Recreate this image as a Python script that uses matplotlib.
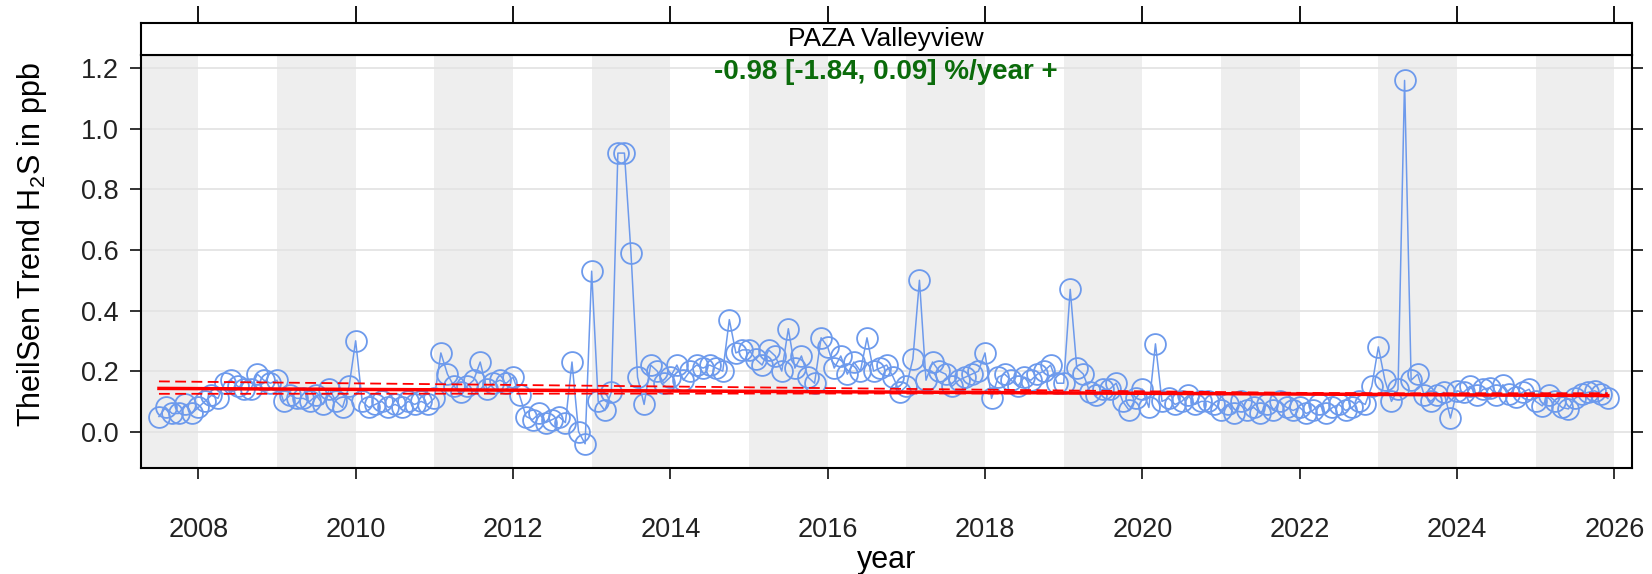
import matplotlib
matplotlib.use("Agg")
import matplotlib.pyplot as plt
import numpy as np

plt.rcParams['font.family'] = ['Liberation Sans', 'DejaVu Sans']
plt.rcParams['mathtext.fontset'] = 'custom'
plt.rcParams['mathtext.rm'] = 'Liberation Sans'
plt.rcParams['mathtext.it'] = 'Liberation Sans:italic'

# monthly H2S means, Jul 2007 - Dec 2025
start_year, start_month = 2007, 7
h2s = [
    0.05, 0.08, 0.06, 0.06, 0.09, 0.06,                                    # 2007
    0.08, 0.10, 0.12, 0.11, 0.16, 0.17, 0.15, 0.14, 0.14, 0.19, 0.17, 0.16,  # 2008
    0.17, 0.10, 0.12, 0.11, 0.11, 0.10, 0.12, 0.09, 0.14, 0.10, 0.08, 0.15,  # 2009
    0.30, 0.10, 0.08, 0.09, 0.10, 0.08, 0.09, 0.08, 0.10, 0.09, 0.10, 0.09,  # 2010
    0.11, 0.26, 0.19, 0.15, 0.13, 0.15, 0.17, 0.23, 0.14, 0.16, 0.17, 0.16,  # 2011
    0.18, 0.12, 0.05, 0.04, 0.06, 0.03, 0.04, 0.05, 0.03, 0.23, 0.00, -0.04, # 2012
    0.53, 0.10, 0.07, 0.13, 0.92, 0.92, 0.59, 0.18, 0.09, 0.22, 0.20, 0.16,  # 2013
    0.18, 0.22, 0.17, 0.20, 0.22, 0.21, 0.22, 0.21, 0.20, 0.37, 0.26, 0.27,  # 2014
    0.27, 0.24, 0.22, 0.27, 0.25, 0.20, 0.34, 0.21, 0.25, 0.18, 0.16, 0.31,  # 2015
    0.28, 0.21, 0.25, 0.19, 0.23, 0.20, 0.31, 0.20, 0.21, 0.22, 0.18, 0.13,  # 2016
    0.15, 0.24, 0.50, 0.17, 0.23, 0.20, 0.19, 0.15, 0.17, 0.18, 0.19, 0.20,  # 2017
    0.26, 0.11, 0.18, 0.19, 0.17, 0.15, 0.18, 0.17, 0.19, 0.20, 0.22, 0.16,  # 2018
    0.16, 0.47, 0.21, 0.19, 0.13, 0.12, 0.14, 0.14, 0.16, 0.10, 0.07, 0.11,  # 2019
    0.14, 0.08, 0.29, 0.10, 0.11, 0.09, 0.10, 0.12, 0.09, 0.10, 0.10, 0.09,  # 2020
    0.07, 0.09, 0.06, 0.10, 0.07, 0.08, 0.06, 0.09, 0.07, 0.10, 0.08, 0.07,  # 2021
    0.08, 0.06, 0.07, 0.09, 0.06, 0.08, 0.09, 0.07, 0.08, 0.10, 0.09, 0.15,  # 2022
    0.28, 0.17, 0.10, 0.14, 1.16, 0.17, 0.19, 0.12, 0.10, 0.12, 0.13, 0.045, # 2023
    0.135, 0.13, 0.15, 0.12, 0.14, 0.145, 0.12, 0.155, 0.125, 0.115, 0.13, 0.14,  # 2024
    0.10, 0.085, 0.12, 0.10, 0.08, 0.075, 0.11, 0.125, 0.13, 0.135, 0.125, 0.11,  # 2025
]

# Theil-Sen trend, %/year with 95% interval, and each line's level at mid-period
slope_pct, slope_lo, slope_hi = -0.98, -1.84, 0.09
level_mid, level_lo, level_hi = 0.131, 0.142, 0.126

site = "PAZA Valleyview"
year_ticks = [2008, 2010, 2012, 2014, 2016, 2018, 2020, 2022, 2024, 2026]
y_ticks = [0.0, 0.2, 0.4, 0.6, 0.8, 1.0, 1.2]

n = len(h2s)
t = start_year + (start_month - 1) / 12 + np.arange(n) / 12
t_mid = (t[0] + t[-1]) / 2

fig = plt.figure(figsize=(16.52, 5.74), dpi=100)
W, H = 1652, 574
left, right = 140.7, 1631.7
ax = fig.add_axes([left / W, 1 - 468 / H, (right - left) / W, (468 - 55) / H])
strip = fig.add_axes([left / W, 1 - 55 / H, (right - left) / W, 32 / H])

# alternating year shading
for yr in range(2007, 2026, 2):
    ax.axvspan(yr, yr + 1, color='#eeeeee', lw=0, zorder=0)
for yv in y_ticks:
    ax.axhline(yv, color='#e2e2e2', lw=1.2, zorder=0.5)

blue = '#6d9aec'
ax.plot(t, h2s, '-', color=blue, lw=1.1, zorder=2)
ax.plot(t, h2s, 'o', mfc='none', mec=blue, mew=1.3, ms=15, zorder=3)

for s, lev, ls, lw in [(slope_pct, level_mid, '-', 2.5),
                       (slope_lo, level_lo, '--', 1.3),
                       (slope_hi, level_hi, '--', 1.3)]:
    line = lev * (1 + s / 100 * (t - t_mid))
    if ls == '--':
        ax.plot(t, line, color='red', lw=lw, zorder=4, dashes=(6, 3))
    else:
        ax.plot(t, line, color='red', lw=lw, zorder=4)

ax.text(0.5, 0.99,
        f"{slope_pct:.2f} [{slope_lo:.2f}, {slope_hi:.2f}] %/year +",
        transform=ax.transAxes, ha='center', va='top', color='#0b6b0b',
        fontsize=20, fontweight='bold', zorder=5)

x0 = 2008 - (198.3 - left) / 78.67
x1 = 2008 + (right - 198.3) / 78.67
ax.set_xlim(x0, x1)
ax.set_ylim(-0.12, 1.244)
ax.set_xticks(year_ticks)
ax.set_xticklabels([str(y) for y in year_ticks])
ax.set_yticks(y_ticks)
ax.set_yticklabels([f"{v:.1f}" for v in y_ticks])
ax.tick_params(axis='both', direction='out', length=8, width=1.3, labelsize=19.5,
               colors='#222222')
ax.tick_params(axis='x', pad=27)
ax.tick_params(axis='y', pad=8, right=True, labelright=False)
for sp in ax.spines.values():
    sp.set_linewidth(1.5)

ax.set_xlabel("year", fontsize=22, va='center')
ax.xaxis.set_label_coords(0.5, -0.222)
ax.set_ylabel(r"TheilSen Trend H$_2$S in ppb", fontsize=22, va='center', ha='center')
ax.yaxis.set_label_coords(-0.073, 0.54)

strip.set_xlim(x0, x1)
strip.set_ylim(0, 1)
strip.set_xticks(year_ticks)
strip.set_yticks([])
strip.tick_params(axis='x', direction='out', length=12, width=1.3, top=True,
                  bottom=False, labelbottom=False, labeltop=False)
for sp in strip.spines.values():
    sp.set_linewidth(1.5)
strip.text(0.5, 0.5, site, transform=strip.transAxes, ha='center', va='center',
           fontsize=19)

fig.savefig("out.png", dpi=100)
